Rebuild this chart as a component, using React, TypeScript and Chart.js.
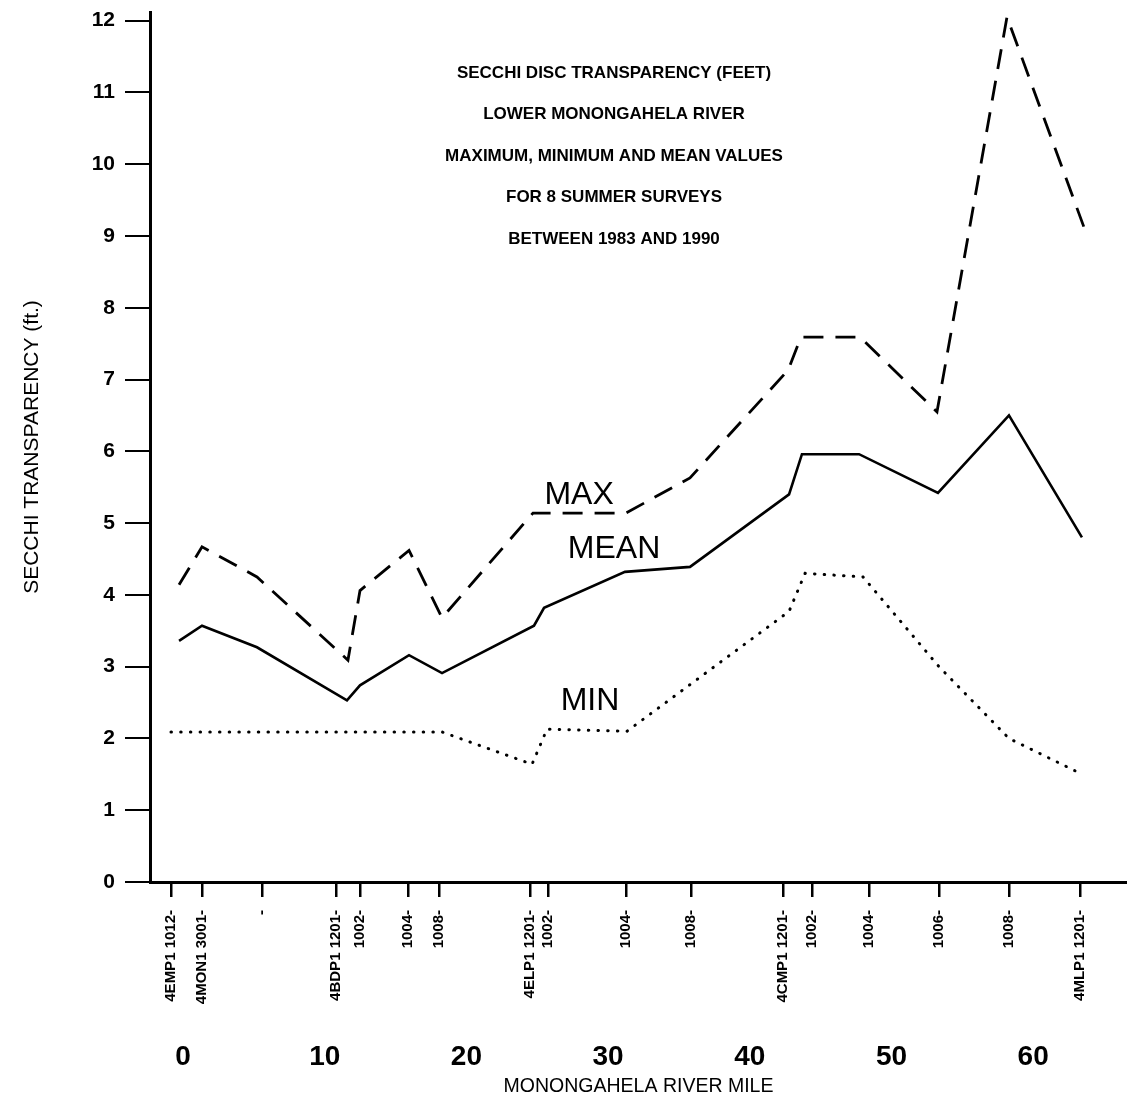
import React, { useEffect, useRef } from 'react';
import { Chart, registerables } from 'chart.js';

Chart.register(...registerables);

// Sampling stations along the river (river mile of each tick) and their codes
const stationMiles = [-0.85, 1.34, 5.58, 10.8, 12.49, 15.88, 18.07, 24.49, 25.76, 31.26, 35.85, 42.34, 44.39, 48.41, 53.35, 58.29, 63.3];
const stationLabels = [
  '4EMP1 1012-', '4MON1 3001-', '-', '4BDP1 1201-', '1002-', '1004-', '1008-',
  '4ELP1 1201-', '1002-', '1004-', '1008-', '4CMP1 1201-', '1002-', '1004-', '1006-', '1008-', '4MLP1 1201-',
];

// River mile labels and transparency ticks
const mileTicks = [0, 10, 20, 30, 40, 50, 60];
const depthTicks = [0, 1, 2, 3, 4, 5, 6, 7, 8, 9, 10, 11, 12];

// Mean Secchi transparency (ft)
const meanMiles = [-0.28, 1.34, 5.22, 11.57, 12.49, 15.95, 18.28, 24.77, 25.48, 31.19, 35.78, 42.77, 43.68, 47.71, 53.28, 58.29, 63.44];
const meanValues = [3.36, 3.57, 3.27, 2.53, 2.74, 3.16, 2.91, 3.57, 3.82, 4.32, 4.39, 5.4, 5.96, 5.96, 5.42, 6.5, 4.8];

// Maximum Secchi transparency (ft)
const maxMiles = [-0.28, 1.34, 5.22, 11.64, 12.49, 15.95, 18.28, 24.7, 31.26, 35.78, 42.7, 43.61, 47.78, 53.21, 58.15, 63.66];
const maxValues = [4.14, 4.67, 4.25, 3.09, 4.06, 4.62, 3.68, 5.14, 5.14, 5.63, 7.13, 7.59, 7.59, 6.55, 12.05, 9.08];

// Minimum Secchi transparency (ft)
const minMiles = [-0.85, 18.28, 24.63, 25.69, 31.33, 42.77, 43.9, 47.99, 53.35, 58.29, 62.95];
const minValues = [2.09, 2.09, 1.64, 2.13, 2.1, 3.77, 4.3, 4.25, 3.0, 2.0, 1.55];

// Curve names written beside the lines (river mile, feet)
const curveNames = ['MAX', 'MEAN', 'MIN'];
const curveNameMiles = [27.95, 30.42, 28.72];
const curveNameValues = [5.43, 4.67, 2.55];

const titleLines = [
  'SECCHI DISC TRANSPARENCY (FEET)',
  'LOWER MONONGAHELA RIVER',
  'MAXIMUM, MINIMUM AND MEAN VALUES',
  'FOR 8 SUMMER SURVEYS',
  'BETWEEN 1983 AND 1990',
];

const FONT = '"Liberation Sans", Arial, Helvetica, sans-serif';

const toPoints = (xs: number[], ys: number[]) => xs.map((x, i) => ({ x, y: ys[i] }));

const textPlugin = {
  id: 'chartText',
  afterDatasetsDraw(chart: any) {
    const { ctx, scales } = chart;
    const xs = scales.x;
    const ys = scales.y;
    ctx.save();
    ctx.fillStyle = '#000';
    ctx.textAlign = 'center';
    ctx.textBaseline = 'middle';
    ctx.font = `bold 17px ${FONT}`;
    titleLines.forEach((t, i) => ctx.fillText(t, 614, 73 + i * 41.5));

    ctx.font = `32px ${FONT}`;
    ctx.textBaseline = 'alphabetic';
    curveNames.forEach((t, i) => {
      const px = xs.getPixelForValue(curveNameMiles[i]);
      const py = ys.getPixelForValue(curveNameValues[i]);
      ctx.fillText(t, px, py + 11.5);
    });
    ctx.restore();
  },
};

export default function App() {
  const canvasRef = useRef<HTMLCanvasElement>(null);

  useEffect(() => {
    if (!canvasRef.current) return;
    const chart = new Chart(canvasRef.current, {
      type: 'line',
      data: {
        datasets: [
          {
            label: 'MAX',
            data: toPoints(maxMiles, maxValues),
            borderColor: '#000',
            borderWidth: 2.8,
            borderDash: [20, 12],
            pointRadius: 0,
            fill: false,
          },
          {
            label: 'MEAN',
            data: toPoints(meanMiles, meanValues),
            borderColor: '#000',
            borderWidth: 2.6,
            pointRadius: 0,
            fill: false,
          },
          {
            label: 'MIN',
            data: toPoints(minMiles, minValues),
            borderColor: '#000',
            borderWidth: 3,
            borderDash: [0.5, 9.2],
            borderCapStyle: 'round',
            pointRadius: 0,
            fill: false,
          },
        ],
      },
      options: {
        animation: false,
        responsive: true,
        maintainAspectRatio: false,
        layout: { padding: { top: 12, left: 0, right: 0, bottom: 0 } },
        plugins: { legend: { display: false }, tooltip: { enabled: false } },
        scales: {
          x: {
            type: 'linear',
            position: 'bottom',
            weight: 0,
            min: -2.33,
            max: 66.62,
            grid: { drawOnChartArea: false, drawTicks: true, tickLength: 15, color: '#000', lineWidth: 2.5 },
            border: { display: true, color: '#000', width: 3 },
            afterBuildTicks: (s: any) => {
              s.ticks = stationMiles.map((v) => ({ value: v }));
            },
            afterFit: (s: any) => {
              s.height = 150;
              s.paddingLeft = 0;
              s.paddingRight = 0;
            },
            ticks: {
              autoSkip: false,
              minRotation: 90,
              maxRotation: 90,
              padding: 13,
              color: '#000',
              font: { family: FONT, size: 15, weight: 'bold' },
              callback: (_v: any, i: number) => stationLabels[i] ?? '',
            },
          },
          x2: {
            type: 'linear',
            position: 'bottom',
            weight: 1,
            min: -2.33,
            max: 66.62,
            grid: { display: false, drawTicks: false },
            border: { display: false },
            afterBuildTicks: (s: any) => {
              s.ticks = mileTicks.map((v) => ({ value: v }));
            },
            afterFit: (s: any) => {
              s.height = 69;
              s.paddingLeft = 0;
              s.paddingRight = 0;
            },
            ticks: {
              autoSkip: false,
              maxRotation: 0,
              padding: 8,
              color: '#000',
              font: { family: FONT, size: 28, weight: 'bold' },
              callback: (v: any) => String(v),
            },
            title: {
              display: true,
              text: 'MONONGAHELA RIVER MILE',
              color: '#000',
              font: { family: FONT, size: 19.5 },
              padding: { top: 0, bottom: 3 },
            },
          },
          y: {
            type: 'linear',
            position: 'left',
            min: 0,
            max: 12.12,
            grid: { drawOnChartArea: false, drawTicks: true, tickLength: 25, color: '#000', lineWidth: 2 },
            border: { display: true, color: '#000', width: 3 },
            afterBuildTicks: (s: any) => {
              s.ticks = depthTicks.map((v) => ({ value: v }));
            },
            afterFit: (s: any) => {
              s.width = 150;
              s.paddingTop = 0;
              s.paddingBottom = 0;
            },
            ticks: {
              padding: 10,
              color: '#000',
              font: { family: FONT, size: 21, weight: 'bold' },
            },
            title: {
              display: true,
              text: 'SECCHI TRANSPARENCY (ft.)',
              color: '#000',
              font: { family: FONT, size: 21 },
              padding: { top: 20, bottom: 0 },
            },
          },
        },
      },
      plugins: [textPlugin],
    } as any);
    return () => chart.destroy();
  }, []);

  return (
    <div style={{ position: 'fixed', left: 0, top: 0, width: 1127, height: 1101, background: '#fff' }}>
      <canvas ref={canvasRef} />
    </div>
  );
}
